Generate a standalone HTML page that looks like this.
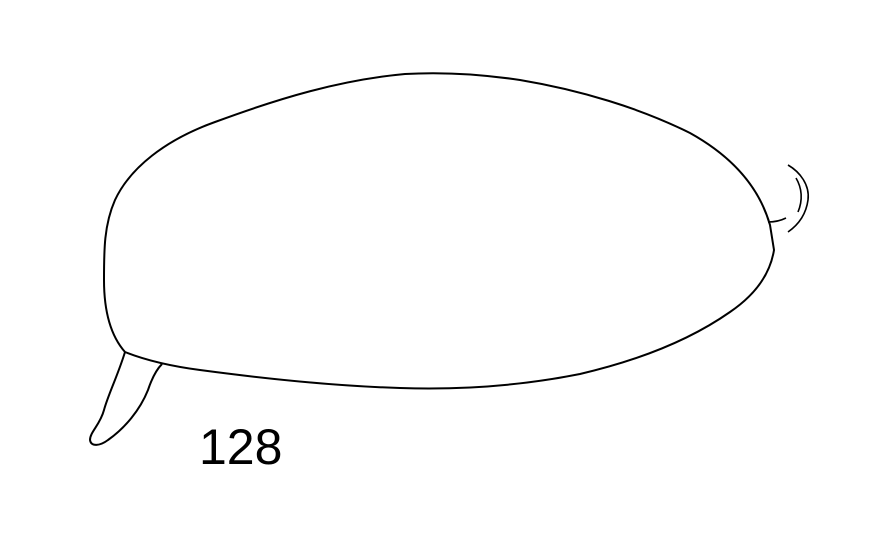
<!DOCTYPE html>
<html><head><meta charset="utf-8"><style>
html,body{margin:0;padding:0;background:#fff;}
svg{display:block}
</style></head><body>
<svg width="870" height="539" viewBox="0 0 870 539">
<path fill="none" stroke="#000" stroke-width="2"
 d="M125,352 C110,335 104,310 104,280 C104,250 104,225 115,200 C130,168 165,140 215,122 C280,98 340,80 405,74 C440,72 480,74 520,80 C580,90 640,108 690,133 C735,158 760,190 770,225 L774,250 C770,275 755,295 730,312 C690,340 640,360 580,374 C520,386 460,390 400,388 C330,386 260,378 200,370 C170,366 145,360 125,352 Z"/>
<path fill="none" stroke="#000" stroke-width="2"
 d="M125,352 C118,375 108,395 104,410 C100,425 90,432 90,440 C91,447 100,446 108,440 C125,428 140,410 148,390 C152,378 156,370 162,364"/>
<path fill="none" stroke="#000" stroke-width="1.6"
 d="M788,165 C800,172 810,185 808,200 C806,215 798,225 788,232 M796,178 C802,188 803,200 798,212 M768,222 C775,222 782,220 786,218"/>
<text x="199" y="464" font-family="Liberation Sans, sans-serif" font-size="50" fill="#000">128</text>
</svg>
</body></html>
